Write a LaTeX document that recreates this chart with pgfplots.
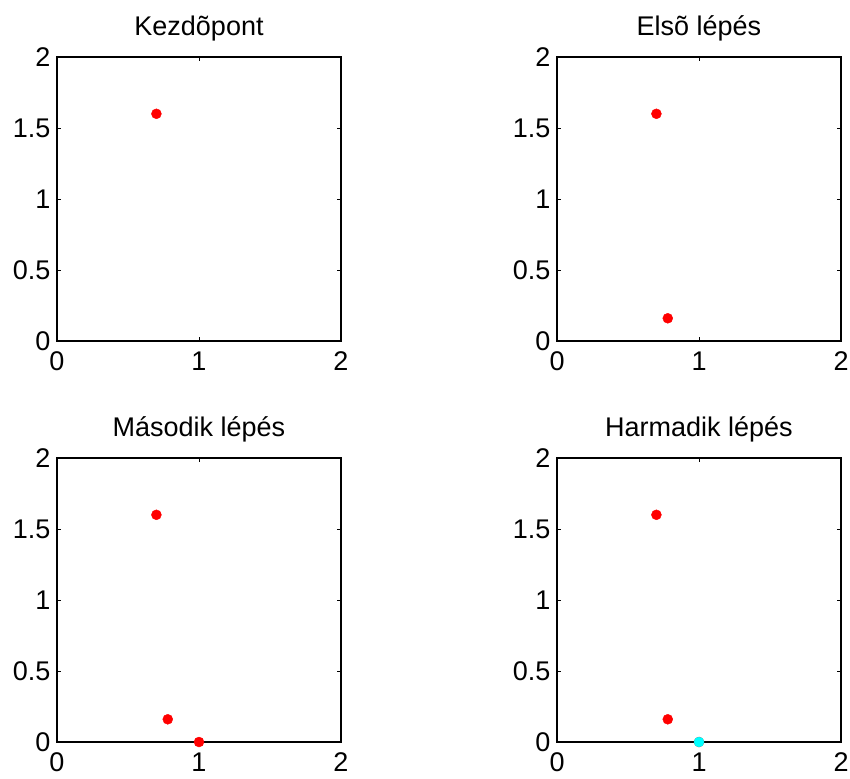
\documentclass[border=0pt]{standalone}
\usepackage{fontspec}
\setmainfont{Liberation Sans}
\usepackage{pgfplots}
\pgfplotsset{compat=1.18}
\definecolor{mcyan}{RGB}{0,255,255}
\definecolor{mred}{RGB}{255,0,0}
\pgfplotsset{
 mystyle/.style={
  scale only axis, width=284pt, height=284pt,
  xmin=0,xmax=2,ymin=0,ymax=2,
  xtick={0,1,2}, ytick={0,0.5,1,1.5,2},
  tick align=inside, major tick length=4pt,
  tick style={black, line width=0.8pt},
  axis line style={line width=1.4pt},
  /pgf/number format/assume math mode=true,
  /pgf/number format/fixed,
  ticklabel style={font=\fontsize{27}{32}\selectfont},
  yticklabel style={xshift=-3pt},
  xticklabel style={yshift=-7pt},
  title style={font=\fontsize{27}{32}\selectfont, yshift=6pt},
  anchor=south west,
  clip=false,
 },
 reddot/.style={only marks, mark=*, mark size=5pt, mark options={draw=mred, fill=mred}},
 cyandot/.style={only marks, mark=*, mark size=5pt, mark options={draw=mcyan, fill=mcyan}},
}
\begin{document}
\begin{tikzpicture}
\begin{axis}[mystyle, at={(57pt,-341pt)}, title={Kezdõpont}]
\addplot[reddot] coordinates {(0.7,1.6)};
\end{axis}
\begin{axis}[mystyle, at={(557pt,-341pt)}, title={Elsõ lépés}]
\addplot[reddot] coordinates {(0.7,1.6) (0.78,0.16)};
\end{axis}
\begin{axis}[mystyle, at={(57pt,-742pt)}, title={Második lépés}]
\addplot[reddot] coordinates {(0.7,1.6) (0.78,0.16) (1,0)};
\end{axis}
\begin{axis}[mystyle, at={(557pt,-742pt)}, title={Harmadik lépés}]
\addplot[reddot] coordinates {(0.7,1.6) (0.78,0.16) (1,0)};
\addplot[cyandot] coordinates {(1,0)};
\end{axis}
\pgfresetboundingbox
\useasboundingbox (0pt,0pt) rectangle (850pt,-778pt);
\end{tikzpicture}
\end{document}
